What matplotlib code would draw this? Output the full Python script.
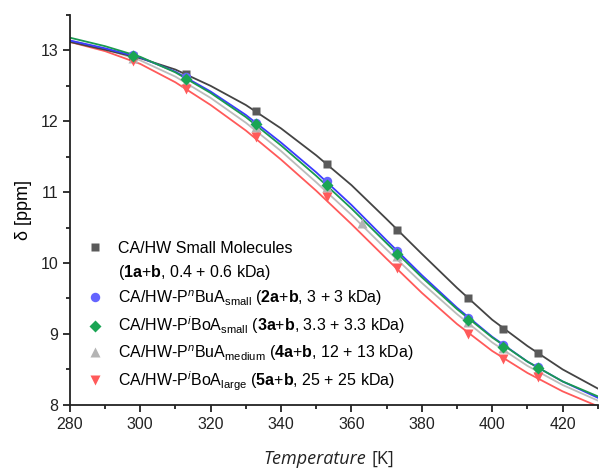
import matplotlib
matplotlib.use("Agg")
import matplotlib.pyplot as plt
from matplotlib.lines import Line2D

plt.rcParams['font.family'] = ['Liberation Sans', 'DejaVu Sans']
plt.rcParams['mathtext.fontset'] = 'custom'
plt.rcParams['mathtext.rm'] = 'Liberation Sans'
plt.rcParams['mathtext.it'] = 'Liberation Sans:italic'
plt.rcParams['mathtext.bf'] = 'Liberation Sans:bold'

# measured points
T_pts = [298, 313, 333, 353, 373, 393, 403, 413]
T_gray = [298, 313, 333, 353, 363, 373, 393, 403, 413]
d_black = [12.92, 12.67, 12.14, 11.40, 10.47, 9.50, 9.07, 8.73]
d_blue = [12.93, 12.63, 11.98, 11.16, 10.17, 9.23, 8.84, 8.53]
d_green = [12.92, 12.60, 11.96, 11.10, 10.13, 9.20, 8.82, 8.52]
d_gray = [12.90, 12.56, 11.92, 11.07, 10.56, 10.10, 9.17, 8.80, 8.50]
d_red = [12.85, 12.45, 11.78, 10.93, 9.93, 9.00, 8.65, 8.39]

# fitted curves
T_fit = [280, 290, 300, 310, 320, 330, 340, 350, 360, 370, 380, 390, 400, 410, 420, 430]
f_black = [13.12, 13.01, 12.89, 12.73, 12.50, 12.23, 11.90, 11.52, 11.10, 10.62, 10.13, 9.65, 9.20, 8.83, 8.50, 8.23]
f_blue = [13.14, 13.03, 12.90, 12.70, 12.42, 12.09, 11.70, 11.28, 10.82, 10.32, 9.83, 9.37, 8.96, 8.61, 8.33, 8.10]
f_green = [13.18, 13.06, 12.91, 12.69, 12.40, 12.06, 11.66, 11.23, 10.77, 10.28, 9.80, 9.35, 8.95, 8.61, 8.33, 8.12]
f_gray = [13.14, 13.02, 12.86, 12.63, 12.33, 11.98, 11.58, 11.14, 10.68, 10.19, 9.72, 9.28, 8.88, 8.55, 8.28, 8.06]
f_red = [13.12, 12.99, 12.81, 12.55, 12.23, 11.87, 11.46, 11.02, 10.55, 10.06, 9.58, 9.14, 8.76, 8.45, 8.19, 7.98]

labels = [
    "CA/HW Small Molecules",
    r"CA/HW-P$^{\mathit{n}}$BuA$_{\mathrm{small}}$ ($\mathbf{2a}$+$\mathbf{b}$, 3 + 3 kDa)",
    r"CA/HW-P$^{\mathit{i}}$BoA$_{\mathrm{small}}$ ($\mathbf{3a}$+$\mathbf{b}$, 3.3 + 3.3 kDa)",
    r"CA/HW-P$^{\mathit{n}}$BuA$_{\mathrm{medium}}$ ($\mathbf{4a}$+$\mathbf{b}$, 12 + 13 kDa)",
    r"CA/HW-P$^{\mathit{i}}$BoA$_{\mathrm{large}}$ ($\mathbf{5a}$+$\mathbf{b}$, 25 + 25 kDa)",
]
label_cont = r"($\mathbf{1a}$+$\mathbf{b}$, 0.4 + 0.6 kDa)"

fig = plt.figure(figsize=(6.02, 4.68), dpi=100)
ax = fig.add_axes([0.116, 0.135, 0.877, 0.833])

series = [
    (T_pts, d_black, f_black, '#5a5a5a', '#444444', 's', 6.0),
    (T_pts, d_blue, f_blue, '#6464ff', '#3a3aff', 'o', 6.8),
    (T_pts, d_green, f_green, '#1aa554', '#1a9a50', 'D', 5.8),
    (T_gray, d_gray, f_gray, '#b4b4b4', '#bcbcbc', '^', 6.8),
    (T_pts, d_red, f_red, '#ff5a5a', '#ff5a5a', 'v', 6.8),
]
for i in [3, 4, 0, 1, 2]:
    Tp, dp, fp, mc, lc, m, ms = series[i]
    ax.plot(T_fit, fp, color=lc, lw=1.3, zorder=2)
for i in [0, 3, 4, 1, 2]:
    Tp, dp, fp, mc, lc, m, ms = series[i]
    ax.plot(Tp, dp, ls='none', marker=m, ms=ms, color=mc, mec='none', zorder=3)

ax.set_xlim(280, 430)
ax.set_ylim(8, 13.5)
ax.set_xticks(range(280, 421, 20))
ax.set_xticks(range(290, 431, 20), minor=True)
ax.set_yticks(range(8, 14))
ax.set_yticks([8.5, 9.5, 10.5, 11.5, 12.5, 13.5], minor=True)
ax.tick_params(which='both', direction='out', width=1.3, labelsize=11.5, colors='#222222')
ax.tick_params(which='major', length=5)
ax.tick_params(which='minor', length=3)
for s in ['top', 'right']:
    ax.spines[s].set_visible(False)
for s in ['left', 'bottom']:
    ax.spines[s].set_linewidth(1.3)
    ax.spines[s].set_color('#222222')

ax.set_ylabel("δ [ppm]", fontsize=13, labelpad=6)

# x label: italic "Temperature" + upright "[K]"
xsplit, yc = 366 / 602, 1 - 459 / 468
fig.text(xsplit, yc, "Temperature", ha='right', va='center', fontsize=13,
         family=['Open Sans', 'DejaVu Sans'], style='italic', color='#222222')
fig.text(xsplit + 6 / 602, yc, "[K]", ha='left', va='center', fontsize=13,
         family=['Open Sans', 'DejaVu Sans'], color='#222222')

handles = []
hl = []
for i, s in enumerate(series):
    h = Line2D([], [], ls='none', marker=s[5], ms=s[6], color=s[3], mec='none')
    handles.append(h)
    hl.append(labels[i])
    if i == 0:
        handles.append(Line2D([], [], ls='none', marker=None))
        hl.append(label_cont)
leg = ax.legend(handles, hl, loc='upper left', bbox_to_anchor=(0.02, 0.437),
                frameon=False, fontsize=11.5, handlelength=1.0, handletextpad=0.95,
                labelspacing=0.42, borderaxespad=0)

fig.savefig("out.png", dpi=100)
